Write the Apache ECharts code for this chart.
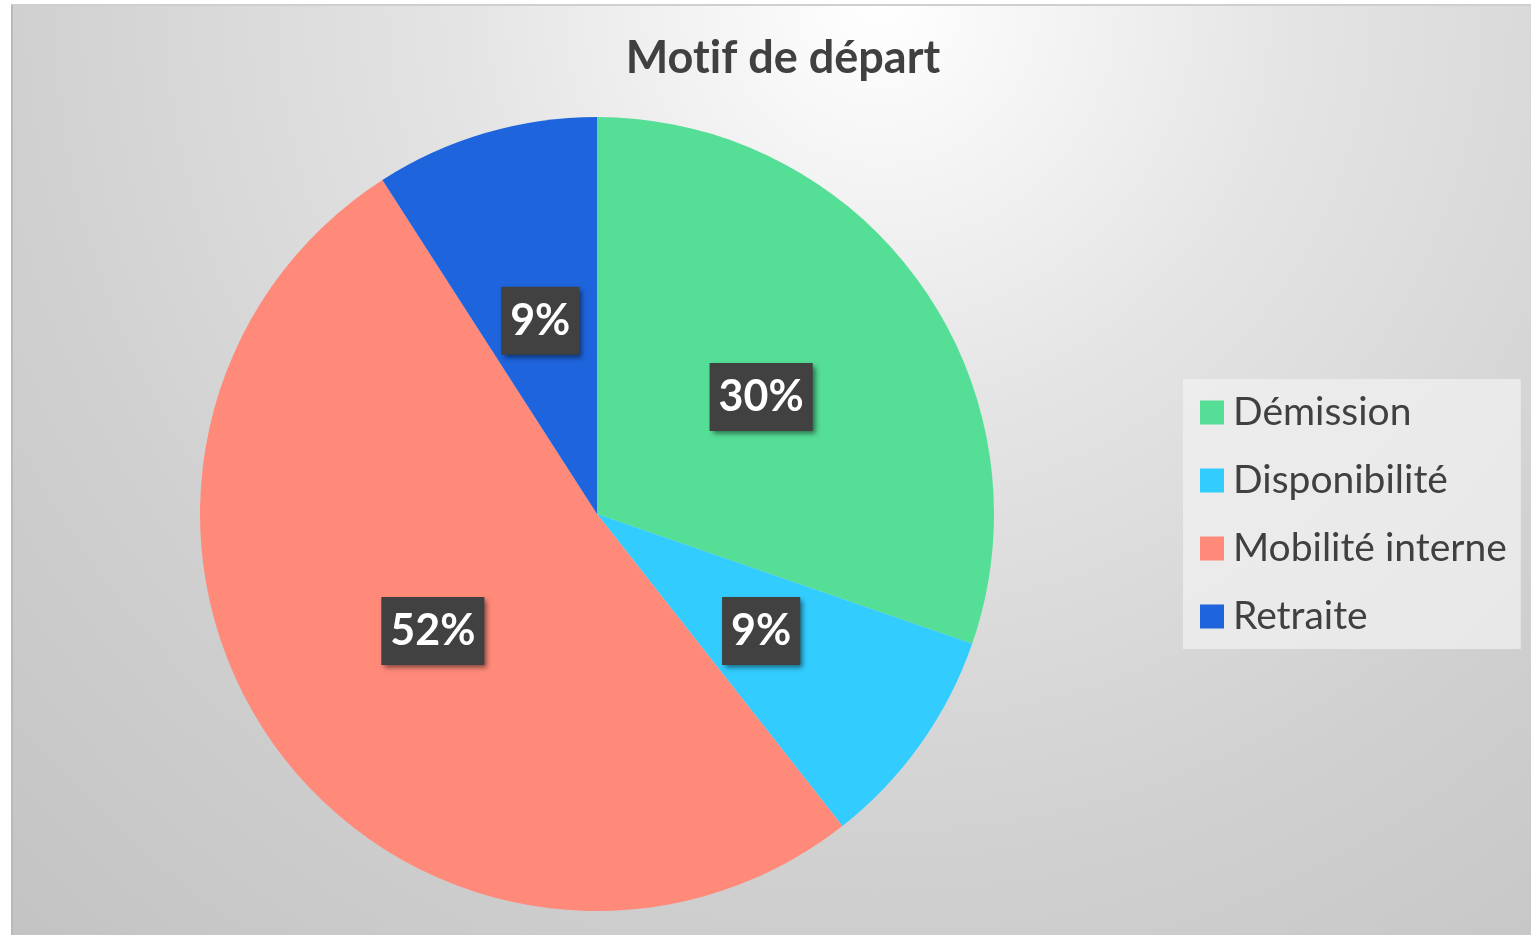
<!DOCTYPE html>
<html>
<head>
<meta charset="utf-8">
<script src="https://cdn.jsdelivr.net/npm/echarts@6/dist/echarts.min.js"></script>
<style>
  html, body { margin: 0; padding: 0; background: #fff; }
  #frame {
    position: absolute; left: 11px; top: 4px; width: 1520px; height: 930px;
    border-left: 2px solid #b9b9b9; border-top: 2px solid #cfcfcf;
    background: radial-gradient(circle farthest-corner at 57% 0%, #ffffff 0%, #e4e4e4 33%, #d0d0d0 68%, #c3c3c3 100%);
  }
  #chart { position: absolute; left: 0; top: 0; width: 1531px; height: 935px; }
</style>
</head>
<body>
<div id="frame"></div>
<div id="chart"></div>
<script>
// 数据
const categories = ['Démission', 'Disponibilité', 'Mobilité interne', 'Retraite'];
const counts = [10, 3, 17, 3];
const colors = ['#55DE95', '#33CCFF', '#FF8A7A', '#1E64DC'];

const FONT = 'Lato, "Open Sans", sans-serif';

const chart = echarts.init(document.getElementById('chart'));

const option = {
    animation: false,
    title: {
        text: 'Mot\u200Cif de départ',
        left: 778,
        textAlign: 'center',
        top: 31,
        textStyle: { fontFamily: FONT, fontSize: 45, fontWeight: 'bold', color: '#404040' }
    },
    legend: {
        orient: 'vertical',
        left: 1183,
        top: 379,
        padding: [13, 14, 12, 17],
        backgroundColor: 'rgba(240,240,240,0.75)',
        itemWidth: 24,
        itemHeight: 24,
        itemGap: 27,
        icon: 'rect',
        data: categories,
        textStyle: { fontFamily: FONT, fontSize: 39, color: '#404040', lineHeight: 41, padding: [0, 0, 0, 4] }
    },
    series: [{
        type: 'pie',
        center: [597, 514],
        radius: [0, 397],
        startAngle: 90,
        clockwise: true,
        silent: true,
        data: categories.map((name, i) => ({
            name: name,
            value: counts[i],
            itemStyle: { color: colors[i] }
        })),
        label: {
            show: true,
            position: 'inside',
            formatter: p => Math.round(p.percent) + '%',
            fontFamily: FONT,
            fontSize: 43,
            fontWeight: 'bold',
            color: '#ffffff',
            backgroundColor: '#414141',
            padding: [14, 9, 11, 9],
            shadowColor: 'rgba(0,0,0,0.5)',
            shadowBlur: 5,
            shadowOffsetX: 3,
            shadowOffsetY: 3
        },
        labelLine: { show: false }
    }]
};

chart.setOption(option);
</script>
</body>
</html>
